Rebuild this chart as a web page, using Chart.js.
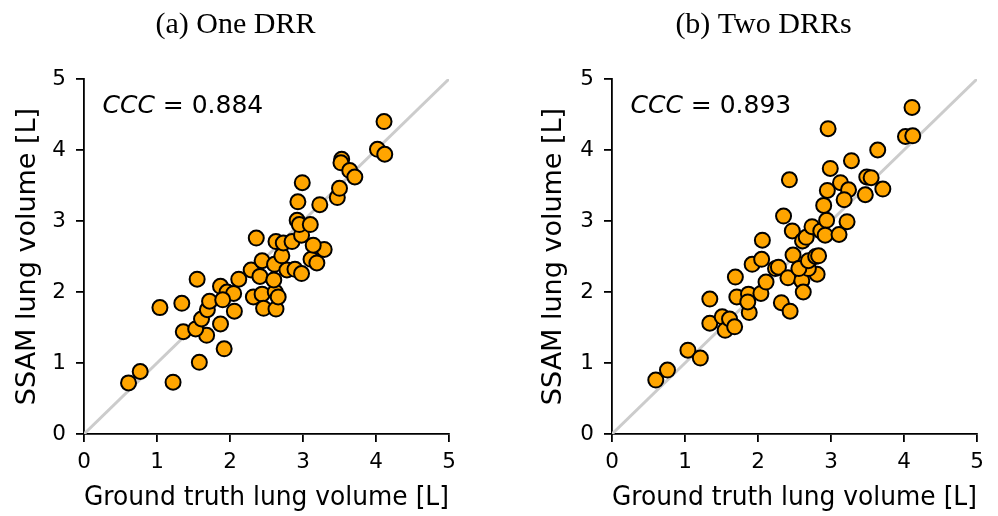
<!DOCTYPE html>
<html><head><meta charset="utf-8">
<script src="https://cdn.jsdelivr.net/npm/chart.js@4"></script>
<style>
html,body{margin:0;padding:0;background:#fff;width:998px;height:516px;overflow:hidden}
.panel{position:absolute;top:0;width:472px;height:516px}
canvas{display:block}
</style></head><body>
<div class="panel" style="left:0"><canvas id="c1" width="472" height="516"></canvas></div>
<div class="panel" style="left:526px"><canvas id="c2" width="472" height="516"></canvas></div>
<script>
const panelTitles = ['(a) One DRR', '(b) Two DRRs'];
const cccValues = ['0.884', '0.893'];
const axisTicks = [0, 1, 2, 3, 4, 5];
const identityLine = [0, 5];
const xAxisLabel = 'Ground truth lung volume [L]';
const yAxisLabel = 'SSAM lung volume [L]';

const oneDrrTruth = [0.61,0.77,1.22,1.04,1.34,1.55,1.36,1.58,1.92,1.68,1.53,1.61,1.87,1.69,1.72,1.87,1.96,2.05,2.06,1.90,2.12,2.29,2.44,2.41,2.32,2.44,2.46,2.63,2.62,2.66,2.61,2.60,2.78,2.89,2.98,2.71,3.11,3.19,3.29,2.36,2.63,2.73,2.85,3.14,2.98,2.92,2.95,3.10,2.93,3.23,2.99,3.47,3.50,3.53,3.52,3.64,3.71,4.02,4.12,4.11];
const oneDrrSsam  = [0.72,0.88,0.73,1.78,1.84,2.18,1.44,1.01,1.20,1.39,1.48,1.62,1.55,1.75,1.87,2.08,2.00,1.98,1.73,1.89,2.18,2.31,2.44,2.22,1.93,1.97,1.77,1.76,2.00,1.93,2.39,2.17,2.31,2.32,2.26,2.51,2.46,2.41,2.60,2.76,2.71,2.69,2.71,2.66,2.80,3.01,2.95,2.95,3.27,3.23,3.54,3.33,3.46,3.87,3.82,3.71,3.62,4.01,3.94,4.40];

const twoDrrTruth = [0.60,0.76,1.04,1.21,1.34,1.34,1.51,1.55,1.61,1.68,1.69,1.71,1.87,1.88,1.92,2.05,2.04,2.11,1.86,2.24,2.28,2.32,2.44,2.41,2.48,2.60,2.62,2.81,2.69,2.56,2.69,2.79,2.83,2.43,2.35,2.47,2.61,2.66,2.74,2.06,2.86,2.94,2.90,2.92,3.11,3.22,2.95,3.13,3.24,3.18,3.47,3.49,3.55,3.71,2.99,4.11,4.02,4.12,2.96,3.64,3.28];
const twoDrrSsam  = [0.76,0.90,1.18,1.07,1.56,1.90,1.65,1.46,1.62,1.51,2.21,1.93,1.97,1.71,2.39,2.46,1.98,2.14,1.86,2.33,2.35,1.85,1.73,2.20,2.52,2.16,2.00,2.25,2.33,2.33,2.44,2.50,2.51,3.58,3.07,2.86,2.72,2.77,2.92,2.73,2.86,3.01,3.22,2.80,2.81,2.99,3.43,3.54,3.44,3.30,3.37,3.62,3.61,3.45,3.74,4.60,4.19,4.20,4.30,4.00,3.85];

const panelText = {
  id: 'panelText',
  afterDraw(chart, args, opts) {
    const ctx = chart.ctx, a = chart.chartArea;
    ctx.save();
    ctx.fillStyle = '#000';
    ctx.textBaseline = 'alphabetic';
    ctx.textAlign = 'center';
    ctx.font = '30px "Liberation Serif", serif';
    ctx.fillText(opts.title, (a.left + a.right) / 2 - 31, 33);
    ctx.textAlign = 'left';
    const x0 = a.left + 18.5, y0 = 113;
    ctx.font = 'italic 25px "DejaVu Sans"';
    ctx.fillText('CCC', x0, y0);
    const w = ctx.measureText('CCC').width;
    ctx.font = '25px "DejaVu Sans"';
    ctx.fillText(' = ' + opts.ccc, x0 + w, y0);
    ctx.restore();
  }
};

function axisCfg(isX, fitSize) {
  return {
    type: 'linear', min: 0, max: 5,
    afterBuildTicks: s => { s.ticks = axisTicks.map(v => ({ value: v })); },
    afterFit: s => { if (isX) s.height = fitSize; else s.width = fitSize; },
    grid: { display: true, drawOnChartArea: false, drawTicks: true, tickLength: 8, color: '#000', lineWidth: 1.8, tickWidth: 1.8 },
    border: { display: true, color: '#000', width: 1.8 },
    ticks: { color: '#000', font: { family: 'DejaVu Sans', size: 21.5 }, padding: isX ? 8 : 10, maxRotation: 0 },
    title: {
      display: true, text: isX ? xAxisLabel : yAxisLabel, color: '#000',
      font: { family: 'DejaVu Sans', size: 27, lineHeight: 1 },
      padding: isX ? { top: 0, bottom: 5 } : { top: 14, bottom: 0 }
    }
  };
}

function makeChart(id, truth, ssam, title, ccc, yWidth, rightPad) {
  const points = truth.map((x, i) => ({ x: x, y: ssam[i] }));
  return new Chart(document.getElementById(id), {
    type: 'scatter',
    data: {
      datasets: [
        { type: 'scatter', data: points, backgroundColor: '#FFA500', borderColor: '#000', borderWidth: 2, pointRadius: 7.5, pointHoverRadius: 7.5, order: 1 },
        { type: 'line', data: identityLine.map(v => ({ x: v, y: v })), borderColor: '#cccccc', borderWidth: 3, pointRadius: 0, fill: false, order: 2 }
      ]
    },
    options: {
      responsive: false, animation: false, events: [],
      layout: { padding: { left: 0, right: rightPad, top: 79, bottom: 0 } },
      plugins: { legend: { display: false }, tooltip: { enabled: false }, title: { display: false }, panelText: { title: title, ccc: ccc } },
      scales: { x: axisCfg(true, 82), y: axisCfg(false, yWidth) }
    },
    plugins: [panelText]
  });
}

makeChart('c1', oneDrrTruth, oneDrrSsam, panelTitles[0], cccValues[0], 84, 23);
makeChart('c2', twoDrrTruth, twoDrrSsam, panelTitles[1], cccValues[1], 86, 21);
</script>
</body></html>
